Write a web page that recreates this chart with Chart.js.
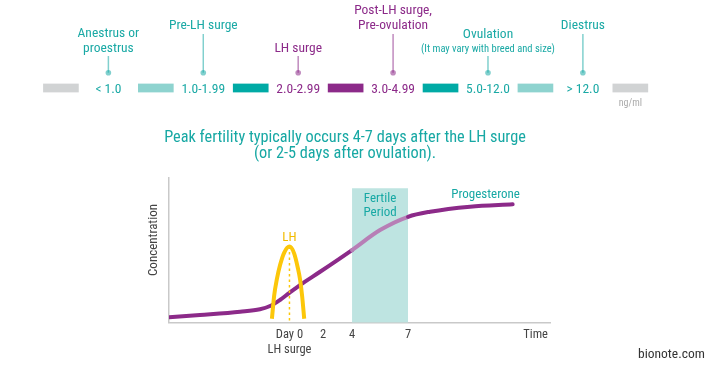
<!DOCTYPE html>
<html lang="en">
<head>
<meta charset="UTF-8">
<title>Progesterone and LH</title>
<script src="https://cdn.jsdelivr.net/npm/chart.js"></script>
<style>
  body { margin: 0; background: #fff; font-family: 'Roboto Condensed', Roboto, sans-serif; }
  #wrap { position: relative; width: 713px; height: 366px; overflow: hidden; }
  canvas { position: absolute; left: 0; top: 0; }
  .head { position: absolute; left: 0; width: 690px; text-align: center; color: #17a8a4; font-size: 16.3px; line-height: 20px; }
  #credit { position: absolute; left: 638px; top: 344px; font-size: 13.5px; line-height: 18px; color: #333; }
</style>
</head>
<body>
<div id="wrap">
  <canvas id="curve" width="713" height="366"></canvas>
  <canvas id="scale" width="713" height="110"></canvas>
  <div class="head" style="top:127px">Peak fertility typically occurs 4-7 days after the LH surge</div>
  <div class="head" style="top:143px">(or 2-5 days after ovulation).</div>
  <div id="credit">bionote.com</div>
</div>
<script>
// Escala de progesterona (ng/ml)
const rangeLabels = ['< 1.0', '1.0-1.99', '2.0-2.99', '3.0-4.99', '5.0-12.0', '> 12.0'];
const rangeColors = ['#1aa9a5', '#1aa9a5', '#8c2a89', '#8c2a89', '#1aa9a5', '#1aa9a5'];
const swatchColors = ['#d1d3d4', '#8ed3cf', '#00aaa5', '#8c2a89', '#00aaa5', '#8ed3cf', '#d1d3d4'];
const stageLabels = [['Anestrus or', 'proestrus'], ['Pre-LH surge'], ['LH surge'],
  ['Post-LH surge,', 'Pre-ovulation'], ['Ovulation'], ['Diestrus']];
const stageNotes = ['', '', '', '', '(It may vary with breed and size)', ''];
const stageRaised = [false, true, false, true, false, true];

// Curvas (tiempo en días, concentración relativa 0-100)
const progDay = [-5.79, -4.14, -1.99, -0.93, -0.39, 0.14, 0.63, 1.21, 2.29, 4, 5.5, 7, 8.18, 10.32, 12.6];
const progLevel = [3.7, 5.3, 7.6, 9.3, 11.5, 15.7, 20.5, 26, 35.2, 50.2, 64, 73.2, 76.7, 80.2, 81.8];
const lhDay = [-0.29, -0.17, -0.03, 0.15, 0.37, 0.65, 0.9, 1.09, 1.22, 1.33, 1.44];
const lhLevel = [2.7, 18.7, 29.7, 40, 48.5, 52.6, 47.9, 38.3, 29.7, 18.2, 2.7];
const lhPeakDay = 0.65;
const lhPeakLevel = 52.6;
const fertileDays = [4, 7];
const fertileTop = 92.9;
const timeTicks = [0.65, 2.45, 4, 7, 13.83];
const timeTickLabels = [['Day 0', 'LH surge'], '2', '4', '7', 'Time'];

const FONT = "'Roboto Condensed', Roboto, sans-serif";
const TEAL = '#17a8a4';
const PURPLE = '#8c2a89';
const PURPLE_LIGHT = '#b77fb6';
const YELLOW = '#fcc70a';
const AXIS = '#c9c9c9';

function draw() {
  Chart.defaults.font.family = FONT;

  // Textos y marcadores de la escala superior
  const scaleLabels = {
    id: 'scaleLabels',
    afterDraw(chart) {
      const ctx = chart.ctx;
      const x = chart.scales.x;
      ctx.save();
      ctx.textAlign = 'center';
      ctx.textBaseline = 'alphabetic';
      rangeLabels.forEach((t, k) => {
        const px = x.getPixelForValue(k + 0.5);
        ctx.font = '13.5px ' + FONT;
        ctx.fillStyle = rangeColors[k];
        ctx.fillText(t, px, 92.5);

        // pointer
        const top = stageRaised[k] ? 34 : 56;
        ctx.strokeStyle = rangeColors[k];
        ctx.fillStyle = rangeColors[k];
        ctx.globalAlpha = 0.55;
        ctx.lineWidth = 1.5;
        ctx.beginPath();
        ctx.moveTo(px, top);
        ctx.lineTo(px, 72.7);
        ctx.stroke();
        ctx.beginPath();
        ctx.arc(px, 72.7, 2.8, 0, Math.PI * 2);
        ctx.fill();
        ctx.globalAlpha = 1;

        // stage name
        let base = stageRaised[k] ? 29 : 51.5;
        if (stageNotes[k]) {
          ctx.font = '10.5px ' + FONT;
          ctx.fillText(stageNotes[k], px, base);
          base -= 13.5;
        }
        ctx.font = '13.5px ' + FONT;
        const lines = stageLabels[k];
        lines.forEach((line, i) => {
          ctx.fillText(line, px, base - (lines.length - 1 - i) * 15);
        });
      });
      ctx.font = '10px ' + FONT;
      ctx.fillStyle = '#aaaaaa';
      ctx.fillText('ng/ml', x.getPixelForValue(6), 106);
      ctx.restore();
    }
  };

  new Chart(document.getElementById('scale'), {
    type: 'bar',
    data: {
      datasets: [{
        data: swatchColors.map((c, k) => ({ x: k, y: [0, 1] })),
        backgroundColor: swatchColors,
        barThickness: 35
      }]
    },
    options: {
      responsive: false,
      animation: false,
      layout: { padding: { top: 83.5, bottom: 17.5, left: 0, right: 0 } },
      plugins: { legend: { display: false }, tooltip: { enabled: false } },
      scales: {
        x: { type: 'linear', min: -0.642, max: 6.871, offset: false, display: false },
        y: { min: 0, max: 1, display: false }
      }
    },
    plugins: [scaleLabels]
  });

  // Etiquetas dentro del gráfico inferior
  const curveLabels = {
    id: 'curveLabels',
    afterDatasetsDraw(chart) {
      const ctx = chart.ctx;
      const x = chart.scales.x;
      ctx.save();
      ctx.textAlign = 'center';
      ctx.textBaseline = 'alphabetic';
      ctx.font = '13px ' + FONT;
      ctx.fillStyle = '#f2bb00';
      ctx.fillText('LH', x.getPixelForValue(lhPeakDay), 241);
      ctx.fillStyle = TEAL;
      const mid = x.getPixelForValue((fertileDays[0] + fertileDays[1]) / 2);
      ctx.fillText('Fertile', mid, 201.5);
      ctx.fillText('Period', mid, 216);
      ctx.fillText('Progesterone', x.getPixelForValue(11.15), 197.5);
      ctx.fillStyle = '#444';
      ctx.translate(156.5, 240);
      ctx.rotate(-Math.PI / 2);
      ctx.fillText('Concentration', 0, 0);
      ctx.restore();
    }
  };

  const inFertile = (c) => c.p0.parsed.x >= fertileDays[0] && c.p1.parsed.x <= fertileDays[1];

  new Chart(document.getElementById('curve'), {
    type: 'line',
    data: {
      datasets: [
        {
          label: 'LH',
          data: lhDay.map((d, i) => ({ x: d, y: lhLevel[i] })),
          borderColor: YELLOW,
          borderWidth: 4,
          pointRadius: 0,
          cubicInterpolationMode: 'monotone',
          borderCapStyle: 'butt'
        },
        {
          label: 'LH peak',
          data: [{ x: lhPeakDay, y: lhPeakLevel }, { x: lhPeakDay, y: 0 }],
          borderColor: YELLOW,
          borderWidth: 1.5,
          borderDash: [2.5, 3],
          pointRadius: 0
        },
        {
          label: 'Progesterone',
          data: progDay.map((d, i) => ({ x: d, y: progLevel[i] })),
          borderColor: PURPLE,
          borderWidth: 4,
          pointRadius: 0,
          cubicInterpolationMode: 'monotone',
          borderCapStyle: 'round',
          segment: { borderColor: (c) => inFertile(c) ? PURPLE_LIGHT : PURPLE }
        },
        {
          label: 'Fertile period',
          data: fertileDays.map((d) => ({ x: d, y: fertileTop })),
          borderWidth: 0,
          borderColor: 'rgba(0,0,0,0)',
          backgroundColor: '#bee4e1',
          fill: 'origin',
          pointRadius: 0
        }
      ]
    },
    options: {
      responsive: false,
      animation: false,
      layout: { padding: { left: 144, right: 163, top: 178, bottom: 0 } },
      plugins: { legend: { display: false }, tooltip: { enabled: false } },
      scales: {
        x: {
          type: 'linear',
          min: -5.8,
          max: 14.6,
          grid: { display: false, drawTicks: false },
          border: { color: AXIS, width: 1.5 },
          afterBuildTicks: (scale) => { scale.ticks = timeTicks.map((v) => ({ value: v })); },
          afterFit: (scale) => { scale.height = 43.3; },
          ticks: {
            autoSkip: false,
            maxRotation: 0,
            padding: 4,
            color: '#444',
            font: { size: 12.5, lineHeight: 1.25 },
            callback: (v, i) => timeTickLabels[i]
          }
        },
        y: {
          min: 0,
          max: 100,
          grid: { display: false, drawTicks: false },
          border: { color: AXIS, width: 1.5 },
          ticks: { display: false },
          afterFit: (scale) => { scale.width = 25; }
        }
      }
    },
    plugins: [curveLabels]
  });
}

document.fonts.load("13px 'Roboto Condensed'").then(draw, draw);
</script>
</body>
</html>
